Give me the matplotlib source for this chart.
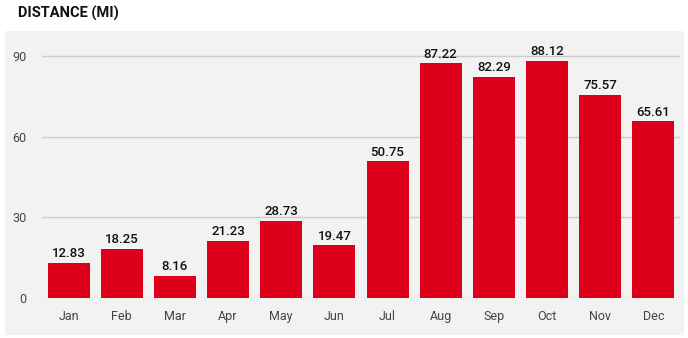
import matplotlib
matplotlib.use("Agg")
import matplotlib.pyplot as plt
from matplotlib.patches import Rectangle

months = ["Jan", "Feb", "Mar", "Apr", "May", "Jun", "Jul", "Aug", "Sep", "Oct", "Nov", "Dec"]
distance = [12.83, 18.25, 8.16, 21.23, 28.73, 19.47, 50.75, 87.22, 82.29, 88.12, 75.57, 65.61]
yticks = [0, 30, 60, 90]
title = "DISTANCE (MI)"

plt.rcParams['font.family'] = ['Roboto', 'DejaVu Sans']

W, H = 688, 338
fig = plt.figure(figsize=(W / 100, H / 100), dpi=100)
fig.patch.set_facecolor("white")

# grey panel
panel = Rectangle((5 / W, 3 / H), 679 / W, 304 / H, transform=fig.transFigure,
                  facecolor="#f2f2f2", edgecolor="none", zorder=-10)
fig.add_artist(panel)

fig.text(18 / W, 1 - 13 / H, title, fontsize=10.5, fontweight="bold", color="#111111",
         va="center", ha="left")

ax = fig.add_axes([42 / W, (H - 297.7) / H, 638 / W, (297.7 - 37.2) / H])
ax.set_zorder(5)
ax.set_facecolor("none")
x = list(range(len(months)))
bars = ax.bar(x, distance, width=0.79, color="#dd001b", zorder=3)
for xi, v in zip(x, distance):
    ax.annotate(f"{v:.2f}", (xi, v), xytext=(0, 2), textcoords="offset points",
                ha="center", va="bottom", fontsize=9.5, color="#111111", fontweight="medium")

ax.set_xlim(-0.5, len(months) - 0.5)
ax.set_ylim(0, 97)
ax.set_yticks(yticks)
ax.set_yticklabels([str(t) for t in yticks])
ax.set_xticks(x)
ax.set_xticklabels(months)
ax.grid(axis="y", color="#cccccc", linewidth=1, zorder=0)
for s in ax.spines.values():
    s.set_visible(False)
ax.tick_params(axis="both", length=0, labelsize=9, colors="#444444")
ax.tick_params(axis="y", pad=11)
ax.tick_params(axis="x", pad=9)

fig.savefig("out.png", dpi=100)
